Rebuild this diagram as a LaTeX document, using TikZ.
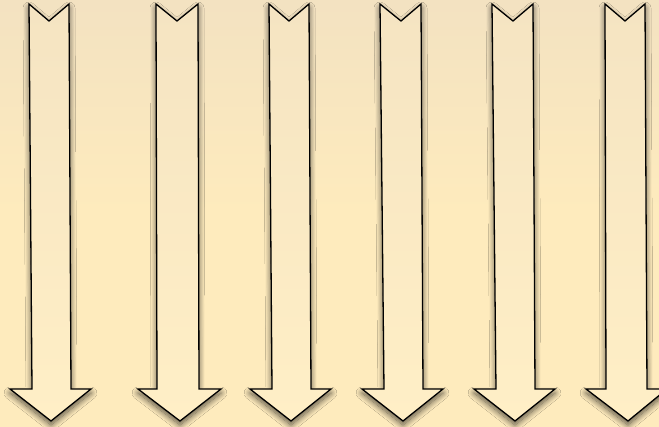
\documentclass[tikz,border=0pt]{standalone}
\usetikzlibrary{shadows.blur}
\definecolor{bgtop}{HTML}{F3E2C1}
\definecolor{bgbot}{HTML}{FEEBBD}
\definecolor{artop}{HTML}{F5E4C2}
\definecolor{arbot}{HTML}{FFEFC6}
\tikzset{
  downarrow/.style={draw=black, line width=1.3pt, line join=miter,
    top color=artop, bottom color=arbot,
    blur shadow={shadow xshift=0pt, shadow yshift=-4pt, shadow blur radius=6pt, shadow opacity=65, shadow blur steps=12}}
}
\begin{document}
\begin{tikzpicture}[x=1pt,y=-1pt]
\shade[top color=bgtop, bottom color=bgbot, middle color=bgbot] (0,0) rectangle (659,426);
\useasboundingbox (0,0) rectangle (659,426);
% xl, xr, xn, bl, br, hl, hr, tip
\foreach \xl/\xr/\xn/\bl/\br/\hl/\hr/\xt in {
  29/69/49/32/71/10/91/51,
  156/198/177/157/199/138/221/180,
  269/309/289/272/311/250/331/291,
  380/421/401/384/423/362/443/403,
  492/533/513/496/535/474/555/515,
  605/645/625/606/647/586/667/628}{
  \path[downarrow] (\xl,4) -- (\xn,21) -- (\xr,4) -- (\br,389) -- (\hr,389) -- (\xt,421)
    -- (\hl,389) -- (\bl,389) -- cycle;
}
\end{tikzpicture}
\end{document}
